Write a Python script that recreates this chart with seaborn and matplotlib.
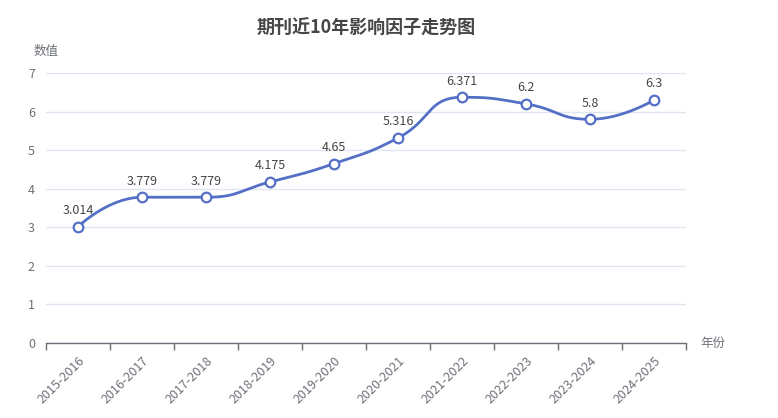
import numpy as np
import pandas as pd
import matplotlib
matplotlib.use("Agg")
import matplotlib.pyplot as plt
import seaborn as sns

years = ["2015-2016", "2016-2017", "2017-2018", "2018-2019", "2019-2020",
         "2020-2021", "2021-2022", "2022-2023", "2023-2024", "2024-2025"]
impact = [3.014, 3.779, 3.779, 4.175, 4.65, 5.316, 6.371, 6.2, 5.8, 6.3]
labels = ["3.014", "3.779", "3.779", "4.175", "4.65", "5.316", "6.371", "6.2", "5.8", "6.3"]

sns.set_style("white")
plt.rcParams['font.family'] = ['Noto Sans CJK SC', 'DejaVu Sans']

cor_linha = "#5470c6"
cor_texto = "#6e7079"


def curva_suave(xs, ys, sx, sy, smooth=0.5, passos=40):
    # bezier parecido com o do echarts (tangente plana nos extremos)
    px = np.array(xs, dtype=float) * sx
    py = np.array(ys, dtype=float) * sy
    n = len(px)
    cps = []
    for i in range(n):
        if i == 0 or i == n - 1:
            cps.append(((px[i], py[i]), (px[i], py[i])))
            continue
        vx = px[i + 1] - px[i - 1]
        vy = py[i + 1] - py[i - 1]
        dy0 = py[i] - py[i - 1]
        dy1 = py[i + 1] - py[i]
        if dy0 * dy1 <= 0:
            vy = 0
        l0 = np.hypot(px[i] - px[i - 1], dy0)
        l1 = np.hypot(px[i + 1] - px[i], dy1)
        r = l1 / (l0 + l1)
        antes = (px[i] - vx * smooth * (1 - r), py[i] - vy * smooth * (1 - r))
        depois = (px[i] + vx * smooth * r, py[i] + vy * smooth * r)
        cps.append((antes, depois))
    rx, ry = [], []
    t = np.linspace(0, 1, passos)
    for i in range(n - 1):
        p0 = np.array([px[i], py[i]])
        p1 = np.array(cps[i][1])
        p2 = np.array(cps[i + 1][0])
        p3 = np.array([px[i + 1], py[i + 1]])
        b = ((1 - t) ** 3)[:, None] * p0 + (3 * (1 - t) ** 2 * t)[:, None] * p1 \
            + (3 * (1 - t) * t ** 2)[:, None] * p2 + (t ** 3)[:, None] * p3
        rx.extend(b[:, 0] / sx)
        ry.extend(b[:, 1] / sy)
    return np.array(rx), np.array(ry)


posicoes = np.arange(len(years))
cx, cy = curva_suave(posicoes, impact, 64.0, 270 / 7)
df_curva = pd.DataFrame({"x": cx, "y": cy})
df_pontos = pd.DataFrame({"x": posicoes, "y": impact})

fig = plt.figure(figsize=(7.78, 4.18), dpi=100)
ax = fig.add_axes([46 / 778, 75 / 418, 640 / 778, 270 / 418])

sns.lineplot(data=df_curva, x="x", y="y", ax=ax, color=cor_linha, linewidth=2,
             sort=False, estimator=None, zorder=3)
sns.scatterplot(data=df_pontos, x="x", y="y", ax=ax, color="white",
                edgecolor=cor_linha, linewidth=1.6, s=48, zorder=4)

for xi, yi, txt in zip(posicoes, impact, labels):
    ax.annotate(txt, (xi, yi), xytext=(0, 7), textcoords="offset points",
                ha="center", va="bottom", fontsize=9, color="#464646")

ax.set_xlim(-0.5, len(years) - 0.5)
ax.set_ylim(0, 7)
ax.set_yticks(range(0, 8))
ax.yaxis.grid(True, color="#e0e6f1", linewidth=1)
ax.set_axisbelow(True)
ax.tick_params(axis="y", length=0, labelsize=9, labelcolor=cor_texto, pad=8)

ax.set_xticks(posicoes)
ax.set_xticklabels(years, rotation=45, ha="right", rotation_mode="anchor",
                   fontsize=9, color=cor_texto)
ax.tick_params(axis="x", which="major", length=0, pad=8)
ax.set_xticks(np.arange(-0.5, len(years)), minor=True)
ax.tick_params(axis="x", which="minor", bottom=True, direction="out",
               length=5, color=cor_texto, width=1)

for lado in ["top", "right", "left"]:
    ax.spines[lado].set_visible(False)
ax.spines["bottom"].set_color(cor_texto)
ax.spines["bottom"].set_linewidth(1)

ax.set_xlabel("")
ax.set_ylabel("")
fig.text(46 / 778, 1 - 51 / 418, "数值", ha="center", va="center",
         fontsize=9, color=cor_texto)
fig.text(700 / 778, 1 - 343 / 418, "年份", ha="left", va="center",
         fontsize=9, color=cor_texto)
fig.text(366 / 778, 1 - 28 / 418, "期刊近10年影响因子走势图", ha="center",
         va="center", fontsize=13, fontweight="bold", color="#464646")

fig.savefig("out.png", dpi=100)
